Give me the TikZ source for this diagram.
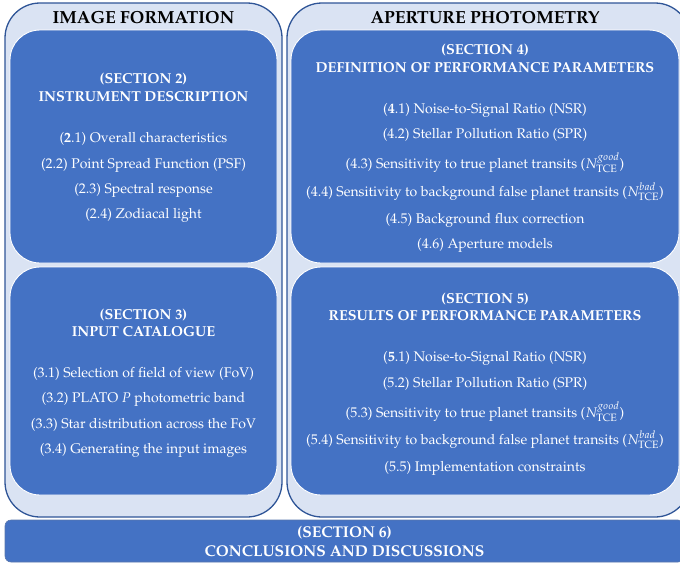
\documentclass[tikz,border=0pt]{standalone}
\usepackage[T1]{fontenc}
\usepackage{mathpazo}
\usepackage{amsmath}
\usetikzlibrary{positioning}
\definecolor{panelfill}{HTML}{DAE3F3}
\definecolor{paneledge}{HTML}{2F5597}
\definecolor{boxblue}{HTML}{4472C4}
\tikzset{
  panel/.style={fill=panelfill, draw=paneledge, line width=1.3pt, rounded corners=35pt},
  secbox/.style={fill=boxblue, draw=white, line width=0.9pt, rounded corners=30pt},
  endbar/.style={fill=boxblue, draw=paneledge!80, line width=0.6pt, rounded corners=6pt},
  paneltitle/.style={anchor=base, inner sep=0pt, text=black, font=\bfseries\fontsize{17.5}{20}\selectfont},
  sectitle/.style={anchor=base, inner sep=0pt, text=white, font=\bfseries\fontsize{14.4}{17}\selectfont},
  endtitle/.style={sectitle, font=\bfseries\fontsize{15.6}{18}\selectfont},
  secitem/.style={anchor=base, inner sep=0pt, text=white, font=\fontsize{14}{17}\selectfont},
}
\newcommand{\ntce}[1]{($N^{#1}_{\mathrm{TCE}}$)}

\begin{document}
\begin{tikzpicture}[x=1pt, y=-1pt]
    \useasboundingbox (0,0) rectangle (680,565);
    \clip (0,0) rectangle (680,565);

    % Panels
    \draw[panel] (5,3) rectangle (282,517);
    \draw[panel] (287,3) rectangle (690,517);
    \node[paneltitle] (imgform) at (143.5,23) {IMAGE FORMATION};
    \node[paneltitle] (apphot) at (485,23) {APERTURE PHOTOMETRY};

    % Section 2
    \draw[secbox] (10,30) rectangle (277,263);
    \node[sectitle] (s2a) at (143.5,83) {(SECTION 2)};
    \node[sectitle] (s2b) at (143.5,101) {INSTRUMENT DESCRIPTION};
    \foreach \y/\t [count=\i] in {142/{(\textbf{2}.1) Overall characteristics},
        168/{(2.2) Point Spread Function (PSF)},
        193/{(2.3) Spectral response},
        218/{(2.4) Zodiacal light}}
      \node[secitem] (s2-\i) at (143.5,\y) {\t};

    % Section 3
    \draw[secbox] (10,267) rectangle (277,495);
    \node[sectitle] (s3a) at (143.5,319) {(SECTION 3)};
    \node[sectitle] (s3b) at (143.5,336) {INPUT CATALOGUE};
    \foreach \y/\t [count=\i] in {377/{(3.1) Selection of field of view (FoV)},
        402/{(3.2) PLATO $P$ photometric band},
        428/{(3.3) Star distribution across the FoV},
        453/{(3.4) Generating the input images}}
      \node[secitem] (s3-\i) at (143.5,\y) {\t};

    % Section 4
    \draw[secbox] (291,30) rectangle (679,263);
    \node[sectitle] (s4a) at (485,54) {(SECTION 4)};
    \node[sectitle] (s4b) at (485,72) {DEFINITION OF PERFORMANCE PARAMETERS};
    \foreach \y/\t [count=\i] in {113/{(\textbf{4}.1) Noise-to-Signal Ratio (NSR)},
        138/{(4.2) Stellar Pollution Ratio (SPR)},
        168/{(4.3) Sensitivity to true planet transits \ntce{good}},
        196/{(4.4) Sensitivity to background false planet transits \ntce{bad}},
        223/{(4.5) Background flux correction},
        248/{(4.6) Aperture models}}
      \node[secitem] (s4-\i) at (485,\y) {\t};

    % Section 5
    \draw[secbox] (291,267) rectangle (679,495);
    \node[sectitle] (s5a) at (485,303) {(SECTION 5)};
    \node[sectitle] (s5b) at (485,320) {RESULTS OF PERFORMANCE PARAMETERS};
    \foreach \y/\t [count=\i] in {361/{(\textbf{5}.1) Noise-to-Signal Ratio (NSR)},
        387/{(5.2) Stellar Pollution Ratio (SPR)},
        417/{(5.3) Sensitivity to true planet transits \ntce{good}},
        444/{(5.4) Sensitivity to background false planet transits \ntce{bad}},
        471/{(5.5) Implementation constraints}}
      \node[secitem] (s5-\i) at (485,\y) {\t};

    % Section 6
    \draw[endbar] (5,520) rectangle (684,562);
    \node[endtitle] (s6a) at (344.5,537) {(SECTION 6)};
    \node[endtitle] (s6b) at (344.5,556) {CONCLUSIONS AND DISCUSSIONS};
\end{tikzpicture}
\end{document}
